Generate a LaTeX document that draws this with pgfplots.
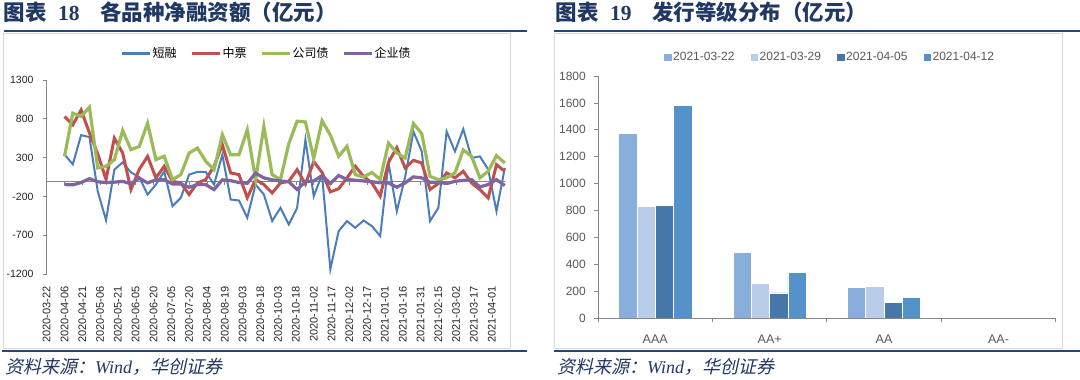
\documentclass[border=0pt]{standalone}
\usepackage{fontspec}
\usepackage{pgfplots}
\pgfplotsset{compat=1.18}
\usepackage{pgfplotstable}
\setmainfont{Liberation Sans}
\newfontfamily\cjk{Noto Sans CJK SC}
\newfontfamily\cjksl{Noto Sans CJK SC}[FakeSlant=0.22]
\newfontfamily\tnr{Liberation Serif}
\definecolor{navy}{HTML}{1F3864}
\definecolor{rulec}{HTML}{23467F}
\definecolor{sblue}{HTML}{4A7EBB}
\definecolor{sred}{HTML}{C0504D}
\definecolor{sgreen}{HTML}{9BBB59}
\definecolor{spurple}{HTML}{8064A2}
\definecolor{axgray}{HTML}{868686}
\definecolor{framec}{HTML}{D9D9D9}
\definecolor{bA}{HTML}{88AFDC}
\definecolor{bB}{HTML}{B9CDE8}
\definecolor{bC}{HTML}{4677A9}
\definecolor{bD}{HTML}{5592C9}
\definecolor{lblgray}{HTML}{595959}

\pgfplotstableread{
day blue red green purple
15 340 830 317 -46
22 215 723 873 -50
29 590 915 830 -20
36 565 620 950 30
43 -130 350 168 -10
50 -505 18 189 -20
57 146 552 274 -15
64 240 360 650 -5
71 110 -110 403 -35
78 50 150 445 37
85 -175 317 744 -25
92 -46 40 275 15
99 124 189 318 15
106 -324 -4 18 -38
113 -217 -25 82 -38
120 82 -174 360 -81
127 117 -25 424 -47
134 117 18 254 -47
141 -46 189 146 -111
148 338 467 595 15
155 -239 104 338 4
162 -251 82 338 -20
169 -473 -216 659 -30
176 -46 18 18 100
183 -174 -46 701 40
190 -516 -153 80 15
197 -345 -25 20 0
204 -559 -4 480 -10
211 -345 146 770 -110
218 531 -40 760 -10
225 -196 250 290 0
232 82 110 774 70
239 -1136 -140 590 -32
246 -645 -100 318 70
253 -517 40 446 19
260 -602 190 82 10
267 -508 60 50 0
274 -581 -25 110 -10
281 -709 -195 18 -23
288 232 240 488 -25
295 -389 430 360 -80
302 50 168 295 -25
309 637 266 740 53
316 381 232 610 40
323 -516 -110 60 -16
330 -346 -33 18 -16
337 637 104 40 -33
344 381 40 104 -4
351 668 125 400 8
358 296 -25 317 18
365 317 -110 40 -76
372 147 -217 125 -46
379 -389 210 326 18
386 168 125 232 -59
}\leftdata

\begin{document}
\begin{tikzpicture}[x=1bp,y=1bp]
\path[use as bounding box] (0,0) rectangle (1080,379);
\fill[white] (0,0) rectangle (1080,379);
% frames
\draw[framec, line width=0.8bp] (3,31) rectangle (510,346);
\draw[framec, line width=0.8bp] (554.5,31) rectangle (1062.6,346);
% rules
\draw[rulec, line width=2bp] (3.5,347.5) -- (527,347.5);
\draw[rulec, line width=2bp] (553.8,347.5) -- (1080,347.5);
\draw[rulec, line width=2bp] (2,28) -- (527,28);
\draw[rulec, line width=2bp] (553.8,28) -- (1080,28);
% titles
\node[anchor=base west, inner sep=0pt, text=navy, font=\fontsize{21.5bp}{25bp}\selectfont] at (3.5,358.5)
  {{\cjk\bfseries 图表}\hspace{11.5bp}{\tnr\bfseries 18}\hspace{20.5bp}{\cjk\bfseries 各品种净融资额（亿元）}};
\node[anchor=base west, inner sep=0pt, text=navy, font=\fontsize{21.5bp}{25bp}\selectfont] at (555.5,358.5)
  {{\cjk\bfseries 图表}\hspace{11.5bp}{\tnr\bfseries 19}\hspace{20.5bp}{\cjk\bfseries 发行等级分布（亿元）}};
% sources
\node[anchor=base west, inner sep=0pt, text=navy, font=\fontsize{18bp}{21bp}\selectfont] at (5,6)
  {{\cjksl 资料来源：}{\tnr\itshape Wind}{\cjksl ，华创证券}};
\node[anchor=base west, inner sep=0pt, text=navy, font=\fontsize{18bp}{21bp}\selectfont] at (557,6)
  {{\cjksl 资料来源：}{\tnr\itshape Wind}{\cjksl ，华创证券}};

% ---------- left chart ----------
\begin{axis}[
  at={(46.7bp,104.8bp)}, anchor=south west, scale only axis,
  width=458.1bp, height=194.2bp,
  xmin=0, xmax=386, ymin=-1200, ymax=1300,
  axis x line*=bottom, axis y line*=left,
  x axis line style={draw=none},
  y axis line style={axgray, line width=0.75bp},
  xtick={0,15,...,375},
  xticklabels={2020-03-22,2020-04-06,2020-04-21,2020-05-06,2020-05-21,2020-06-05,2020-06-20,2020-07-05,2020-07-20,2020-08-04,2020-08-19,2020-09-03,2020-09-18,2020-10-03,2020-10-18,2020-11-02,2020-11-17,2020-12-02,2020-12-17,2021-01-01,2021-01-16,2021-01-31,2021-02-15,2021-03-02,2021-03-17,2021-04-01},
  ytick={-1200,-700,-200,300,800,1300},
  yticklabels={-1200,-700,-200,300,800,1300},
  xtick style={draw=none},
  ytick style={axgray, line width=0.75bp},
  tick align=outside, major tick length=4bp,
  xticklabel style={rotate=90, anchor=east, inner sep=0pt, font=\fontsize{11bp}{13bp}\selectfont, text=black!85},
  xticklabel shift=8bp,
  yticklabel style={anchor=east, inner sep=0pt, font=\fontsize{10.5bp}{12bp}\selectfont, text=black!85},
  yticklabel shift=9bp,
  clip=false,
  legend columns=4,
  legend style={at={(axis description cs:0.479,1.139)}, anchor=center, draw=none, fill=none,
    font=\cjk\fontsize{12bp}{14bp}\selectfont, inner sep=0pt,
    nodes={inner sep=1.5bp},
    /tikz/every even column/.append style={column sep=12bp}},
  legend image code/.code={\draw[#1, line width=3bp] (0bp,0bp) -- (28bp,0bp);},
]
\draw[axgray, line width=0.75bp] (axis cs:0,0) -- (axis cs:386,0);
\pgfplotsinvokeforeach{0,15,...,375}{\draw[axgray, line width=0.75bp] (axis cs:#1,0) -- ++(0bp,-4bp);}
\addplot[sblue, line width=2bp] table[x=day, y=blue] {\leftdata};
\addlegendentry{短融}
\addplot[sred, line width=3bp] table[x=day, y=red] {\leftdata};
\addlegendentry{中票}
\addplot[sgreen, line width=3.2bp] table[x=day, y=green] {\leftdata};
\addlegendentry{公司债}
\addplot[spurple, line width=3.2bp] table[x=day, y=purple] {\leftdata};
\addlegendentry{企业债}
\end{axis}

% ---------- right chart ----------
\begin{axis}[
  at={(598bp,61bp)}, anchor=south west, scale only axis,
  width=457.7bp, height=242bp,
  xmin=-0.5, xmax=3.5, ymin=0, ymax=1800,
  ybar=0pt, bar width=18.3bp,
  axis on top,
  axis x line*=bottom, axis y line*=left,
  axis line style={axgray, line width=0.75bp},
  xtick={0,1,2,3}, xticklabels={AAA,AA+,AA,AA-},
  xtick style={draw=none},
  ytick={0,200,...,1800},
  yticklabels={0,200,400,600,800,1000,1200,1400,1600,1800},
  ytick style={axgray, line width=0.75bp},
  tick align=outside, major tick length=4bp,
  xticklabel style={anchor=north, inner sep=0pt, font=\fontsize{12.5bp}{14bp}\selectfont, text=lblgray},
  xticklabel shift=13bp,
  yticklabel style={anchor=east, inner sep=0pt, font=\fontsize{12bp}{14bp}\selectfont, text=lblgray},
  yticklabel shift=8bp,
  clip=false,
  legend columns=4,
  legend style={at={(axis description cs:0.507,1.077)}, anchor=center, draw=none, fill=none,
    font=\fontsize{12bp}{14bp}\selectfont, text=lblgray, inner sep=0pt,
    nodes={inner sep=2bp},
    /tikz/every even column/.append style={column sep=14bp}},
]
\addplot[fill=bA, draw=white, line width=0.6bp, legend image code/.code={\fill[bA] (0bp,-3.2bp) rectangle (6.5bp,3.3bp);}]
  coordinates {(0,1374) (1,486) (2,228) (3,4)};
\addlegendentry{2021-03-22}
\addplot[fill=bB, draw=white, line width=0.6bp, legend image code/.code={\fill[bB] (0bp,-3.2bp) rectangle (6.5bp,3.3bp);}]
  coordinates {(0,833) (1,255) (2,236) (3,0)};
\addlegendentry{2021-03-29}
\addplot[fill=bC, draw=white, line width=0.6bp, legend image code/.code={\fill[bC] (0bp,-3.2bp) rectangle (6.5bp,3.3bp);}]
  coordinates {(0,835) (1,187) (2,119) (3,0)};
\addlegendentry{2021-04-05}
\addplot[fill=bD, draw=white, line width=0.6bp, legend image code/.code={\fill[bD] (0bp,-3.2bp) rectangle (6.5bp,3.3bp);}]
  coordinates {(0,1579) (1,340) (2,156) (3,0)};
\addlegendentry{2021-04-12}
\draw[axgray, line width=0.75bp] (axis cs:-0.5,0) -- (axis cs:3.5,0);
\pgfplotsinvokeforeach{-0.5,0.5,1.5,2.5,3.5}{\draw[axgray, line width=0.75bp] (axis cs:#1,0) -- ++(0bp,-4bp);}
\end{axis}
\end{tikzpicture}
\end{document}
